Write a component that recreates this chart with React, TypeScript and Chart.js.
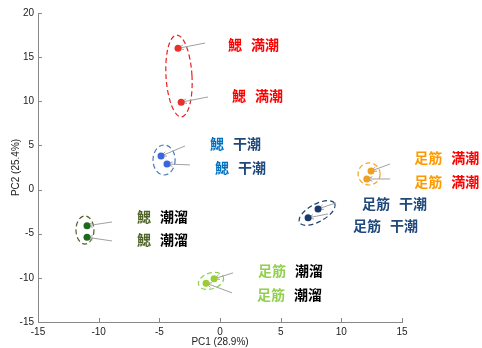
import React, { useEffect, useRef } from "react";
import { Chart, registerables } from "chart.js";

Chart.register(...registerables);

// Groups (tissue + condition)
const tissues = ["鰓", "鰓", "鰓", "足筋", "足筋", "足筋"];
const conditions = ["満潮", "干潮", "潮溜", "潮溜", "満潮", "干潮"];

// Replicate A and B scores
const pc1A = [-3.46, -4.86, -10.96, -0.49, 12.45, 8.08];
const pc2A = [16.0, 3.8, -4.1, -10.1, 2.1, -2.2];
const pc1B = [-3.2, -4.37, -10.96, -1.15, 12.1, 7.26];
const pc2B = [9.9, 2.9, -5.4, -10.6, 1.2, -3.2];

// Label anchors (data units) for replicate A and B
const labAx = [0.66, -0.82, -6.84, 3.14, 16.0, 11.71];
const labAy = [16.38, 5.16, -3.1, -9.2, 3.58, -1.63];
const labBx = [0.99, -0.41, -6.84, 3.05, 16.0, 10.97];
const labBy = [10.6, 2.45, -5.7, -11.94, 0.86, -4.12];

// Arrow tails (data units)
const tailAx = [-1.23, -2.88, -8.9, 1.08, 14.02, 9.57];
const tailAy = [16.6, 4.94, -3.67, -9.44, 2.9, -1.5];
const tailBx = [-0.99, -2.47, -8.9, 0.99, 14.02, 8.9];
const tailBy = [10.49, 2.79, -5.82, -11.7, 1.2, -2.76];

// Group ellipses (data units)
const ellCx = [-3.38, -4.61, -11.13, -0.74, 12.29, 8.0];
const ellCy = [12.87, 3.35, -4.58, -10.35, 1.77, -2.65];
const ellRx = [1.07, 0.91, 0.74, 1.07, 0.91, 1.65];
const ellRy = [4.64, 1.7, 1.59, 0.9, 1.25, 1.0];
const ellRot = [-0.06, 0, 0, -0.3, 0, -0.5];

const pointColors = ["#e8302a", "#3a66e0", "#1d6a1d", "#9acd32", "#f0a020", "#1a3a6e"];
const tissueColors = ["#ff0000", "#0070c0", "#4f6228", "#92d050", "#ff9900", "#1f497d"];
const ellColors = ["#e82020", "#4a7ac0", "#4f6228", "#92d050", "#f5a020", "#1f3f6e"];
const conditionColors: Record<string, string> = { "満潮": "#ff0000", "干潮": "#1f497d", "潮溜": "#000000" };

const xTicks = [-15, -10, -5, 0, 5, 10, 15];
const yTicks = [-15, -10, -5, 0, 5, 10, 15, 20];

const overlay = {
  id: "overlay",
  beforeDatasetsDraw(chart: any) {
    const ctx = chart.ctx;
    const xs = chart.scales.x;
    const ys = chart.scales.y;
    ctx.save();
    // inward ticks
    ctx.strokeStyle = "#888";
    ctx.lineWidth = 1;
    const ca = chart.chartArea;
    xTicks.forEach((v) => {
      const px = Math.round(xs.getPixelForValue(v)) + 0.5;
      ctx.beginPath();
      ctx.moveTo(px, ca.bottom);
      ctx.lineTo(px, ca.bottom - 4);
      ctx.stroke();
    });
    yTicks.forEach((v) => {
      const py = Math.round(ys.getPixelForValue(v)) + 0.5;
      ctx.beginPath();
      ctx.moveTo(ca.left, py);
      ctx.lineTo(ca.left + 4, py);
      ctx.stroke();
    });
    // ellipses
    ctx.setLineDash([5, 3]);
    ctx.lineWidth = 1.2;
    for (let i = 0; i < ellCx.length; i++) {
      const cx = xs.getPixelForValue(ellCx[i]);
      const cy = ys.getPixelForValue(ellCy[i]);
      const rx = Math.abs(xs.getPixelForValue(ellCx[i] + ellRx[i]) - cx);
      const ry = Math.abs(ys.getPixelForValue(ellCy[i] + ellRy[i]) - cy);
      ctx.strokeStyle = ellColors[i];
      ctx.beginPath();
      ctx.ellipse(cx, cy, rx, ry, ellRot[i], 0, Math.PI * 2);
      ctx.stroke();
    }
    ctx.setLineDash([]);
    // arrows
    ctx.strokeStyle = "#a0a0a0";
    ctx.lineWidth = 1;
    const arrow = (tx: number, ty: number, hx: number, hy: number) => {
      const x1 = xs.getPixelForValue(tx), y1 = ys.getPixelForValue(ty);
      const x2 = xs.getPixelForValue(hx), y2 = ys.getPixelForValue(hy);
      const a = Math.atan2(y2 - y1, x2 - x1);
      ctx.beginPath();
      ctx.moveTo(x1, y1);
      ctx.lineTo(x2, y2);
      ctx.stroke();
      const L = 6, w = 0.4;
      ctx.beginPath();
      ctx.moveTo(x2 - L * Math.cos(a - w), y2 - L * Math.sin(a - w));
      ctx.lineTo(x2, y2);
      ctx.lineTo(x2 - L * Math.cos(a + w), y2 - L * Math.sin(a + w));
      ctx.stroke();
    };
    for (let i = 0; i < pc1A.length; i++) {
      arrow(tailAx[i], tailAy[i], pc1A[i], pc2A[i]);
      arrow(tailBx[i], tailBy[i], pc1B[i], pc2B[i]);
    }
    ctx.restore();
  },
  afterDatasetsDraw(chart: any) {
    const ctx = chart.ctx;
    const xs = chart.scales.x;
    const ys = chart.scales.y;
    ctx.save();
    ctx.font = "bold 14px 'Noto Sans CJK JP', sans-serif";
    ctx.textBaseline = "middle";
    ctx.textAlign = "left";
    const label = (i: number, lx: number, ly: number) => {
      const px = xs.getPixelForValue(lx);
      const py = ys.getPixelForValue(ly);
      ctx.fillStyle = tissueColors[i];
      ctx.fillText(tissues[i], px, py);
      const w = ctx.measureText(tissues[i]).width;
      ctx.fillStyle = conditionColors[conditions[i]];
      ctx.fillText(conditions[i], px + w + 9, py);
    };
    for (let i = 0; i < tissues.length; i++) {
      label(i, labAx[i], labAy[i]);
      label(i, labBx[i], labBy[i]);
    }
    ctx.restore();
  },
};

export default function App() {
  const ref = useRef<HTMLCanvasElement | null>(null);
  useEffect(() => {
    if (!ref.current) return;
    const datasets = tissues.map((t, i) => ({
      label: t + " " + conditions[i],
      data: [
        { x: pc1A[i], y: pc2A[i] },
        { x: pc1B[i], y: pc2B[i] },
      ],
      backgroundColor: pointColors[i],
      borderColor: pointColors[i],
      pointRadius: 3.5,
      borderWidth: 0,
    }));
    const tickFont = { family: "'Liberation Sans', Arial, sans-serif", size: 10 };
    const chart = new Chart(ref.current, {
      type: "scatter",
      data: { datasets },
      plugins: [overlay],
      options: {
        animation: false,
        responsive: false,
        layout: { padding: { top: 13, right: 80, left: 0, bottom: 0 } },
        plugins: { legend: { display: false }, tooltip: { enabled: false } },
        scales: {
          x: {
            type: "linear",
            min: -15,
            max: 15,
            afterBuildTicks: (s: any) => { s.ticks = xTicks.map((v) => ({ value: v })); },
            afterFit: (s: any) => { s.height = 26; },
            grid: { display: false, drawTicks: false },
            border: { display: true, color: "#888" },
            ticks: { color: "#222", font: tickFont, padding: 4, maxRotation: 0 },
            title: { display: true, text: "PC1 (28.9%)", color: "#222", font: tickFont, padding: { top: 0, bottom: 0 } },
          },
          y: {
            type: "linear",
            min: -15,
            max: 20,
            afterBuildTicks: (s: any) => { s.ticks = yTicks.map((v) => ({ value: v })); },
            afterFit: (s: any) => { s.width = 38; },
            grid: { display: false, drawTicks: false },
            border: { display: true, color: "#888" },
            ticks: { color: "#222", font: tickFont, padding: 4 },
            title: { display: true, text: "PC2 (25.4%)", color: "#222", font: tickFont, padding: { top: 10, bottom: 0 } },
          },
        },
      } as any,
    });
    return () => chart.destroy();
  }, []);
  return (
    <div style={{ position: "fixed", left: 0, top: 0, width: 482, height: 348, background: "#fff" }}>
      <canvas ref={ref} width={482} height={348} style={{ display: "block" }} />
    </div>
  );
}
